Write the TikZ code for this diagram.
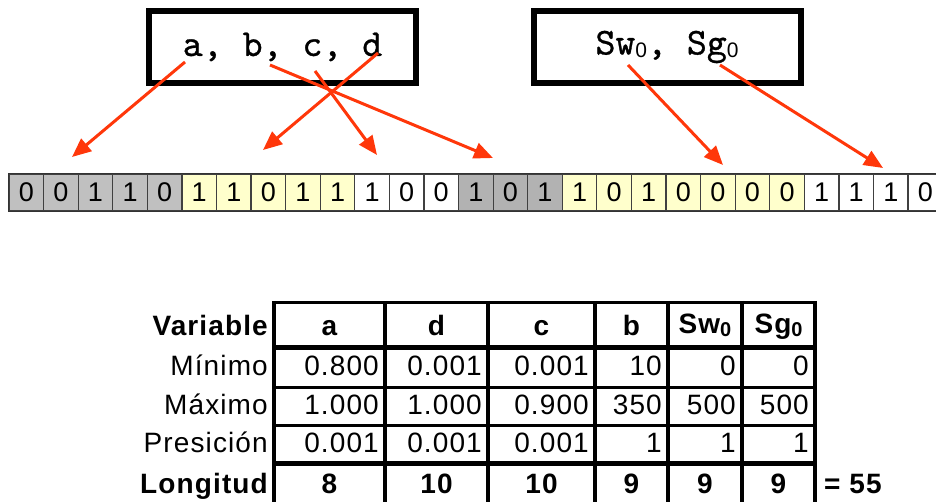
\documentclass[tikz,border=0pt]{standalone}
\usepackage{fontspec}
\usetikzlibrary{arrows.meta}
\newfontfamily\arialfont{Liberation Sans}
\newfontfamily\cellfont[LetterSpace=4]{Liberation Sans}
\newfontfamily\boxfont[FakeBold=0.8]{lmmono10-regular.otf}
\definecolor{bitgray}{RGB}{192,192,192}
\definecolor{bitdark}{RGB}{178,178,178}
\definecolor{bityellow}{RGB}{255,255,204}
\definecolor{arrowred}{RGB}{255,55,10}
% small lowered zero used as index
\newcommand{\lowzero}[1]{\raisebox{-3pt}{\fontsize{#1}{#1}\selectfont 0}}

\begin{document}
\begin{tikzpicture}[
    x=1pt, y=-1pt,
    >={Triangle[length=19pt,width=16pt]},
    varbox/.style={draw, line width=6pt, minimum width=267pt, minimum height=72pt,
        font=\fontsize{38}{38}\selectfont\boxfont},
    bitcell/.style={draw=black!75, line width=1.2pt, minimum width=34.58pt,
        minimum height=37pt, inner sep=0pt, font=\fontsize{27}{27}\selectfont\arialfont},
    maparrow/.style={->, arrowred, line width=3pt},
    rowlab/.style={anchor=base east, inner sep=0pt, font=\fontsize{28}{28}\selectfont\cellfont},
    numtxt/.style={anchor=base east, inner sep=0pt, font=\fontsize{28}{28}\selectfont\cellfont},
    boldtxt/.style={anchor=base, inner sep=0pt, font=\fontsize{28}{28}\selectfont\cellfont\bfseries},
]
\useasboundingbox (0,0) rectangle (936,502);
\clip (0,0) rectangle (936,502);

% the variables to encode
\node[varbox] (vars) at (282.5,47) {a, b, c, d};
\node[varbox] (sats) at (667,47) {Sw{\arialfont\lowzero{21}}, Sg{\arialfont\lowzero{21}}};

% the chromosome
\foreach \b/\c [count=\i from 0] in {0/bitgray,0/bitgray,1/bitgray,1/bitgray,0/bitgray,
    1/bityellow,1/bityellow,0/bityellow,1/bityellow,1/bityellow,
    1/white,0/white,0/white,
    1/bitdark,0/bitdark,1/bitdark,
    1/bityellow,0/bityellow,1/bityellow,0/bityellow,0/bityellow,0/bityellow,0/bityellow,
    1/white,1/white,1/white,0/white}
  \node[bitcell, fill=\c] (bit\i) at ({26.29+34.58*\i},192.5) {\b};
\draw[line width=1.6pt, black!80] (bit0.north west) rectangle (bit26.south east);

% where each variable goes
\coordinate (a-src) at (185,62);  \coordinate (a-dst) at (72,157);
\coordinate (b-src) at (270,65);  \coordinate (b-dst) at (493,158);
\coordinate (c-src) at (315,71);  \coordinate (c-dst) at (377,155);
\coordinate (d-src) at (378,53);  \coordinate (d-dst) at (263,150);
\coordinate (sw-src) at (628,65); \coordinate (sw-dst) at (723,165);
\coordinate (sg-src) at (720,65); \coordinate (sg-dst) at (883,168);
\foreach \v in {a,b,c,d,sw,sg}
  \draw[maparrow] (\v-src) -- (\v-dst);

% table of ranges
\foreach \x in {274,385,488,595,668,742,815}
  \draw[line width=4.5pt] (\x,301) -- (\x,510);
\draw[line width=3pt] (272,303) -- (817,303);
\draw[line width=5pt] (272,347) -- (817,347);
\draw[line width=3pt] (272,387) -- (817,387);
\draw[line width=3pt] (272,425) -- (817,425);
\draw[line width=5pt] (272,463) -- (817,463);

% row labels
\node[rowlab, font=\fontsize{28}{28}\selectfont\cellfont\bfseries] (lab-var) at (268,335) {Variable};
\node[rowlab] (lab-min) at (268,375) {Mínimo};
\node[rowlab] (lab-max) at (268,414) {Máximo};
\node[rowlab] (lab-pre) at (268,452) {Presición};
\node[rowlab, font=\fontsize{28}{28}\selectfont\cellfont\bfseries] (lab-lon) at (268,493) {Longitud};

% header
\foreach \x/\t [count=\j] in {329.5/a,436.5/d,541.5/c,631.5/b}
  \node[boldtxt] (var-\j) at (\x,335) {\t};
\node[boldtxt] (var-sw) at (705,333) {Sw\lowzero{20}};
\node[boldtxt] (var-sg) at (778.5,333) {Sg\lowzero{20}};

% limits and precision
\foreach \x/\t [count=\j] in {379/0.800,482/0.001,589/0.001,662/10,736/0,809/0}
  \node[numtxt] (min-\j) at (\x,375) {\t};
\foreach \x/\t [count=\j] in {379/1.000,482/1.000,589/0.900,662/350,736/500,809/500}
  \node[numtxt] (max-\j) at (\x,414) {\t};
\foreach \x/\t [count=\j] in {379/0.001,482/0.001,589/0.001,662/1,736/1,809/1}
  \node[numtxt] (pre-\j) at (\x,452) {\t};

% bit lengths
\foreach \x/\t [count=\j] in {329.5/8,436.5/10,541.5/10,631.5/9,705/9,778.5/9}
  \node[boldtxt] (lon-\j) at (\x,493) {\t};
\node[boldtxt, anchor=base west] (total) at (824,493) {= 55};
\end{tikzpicture}
\end{document}
